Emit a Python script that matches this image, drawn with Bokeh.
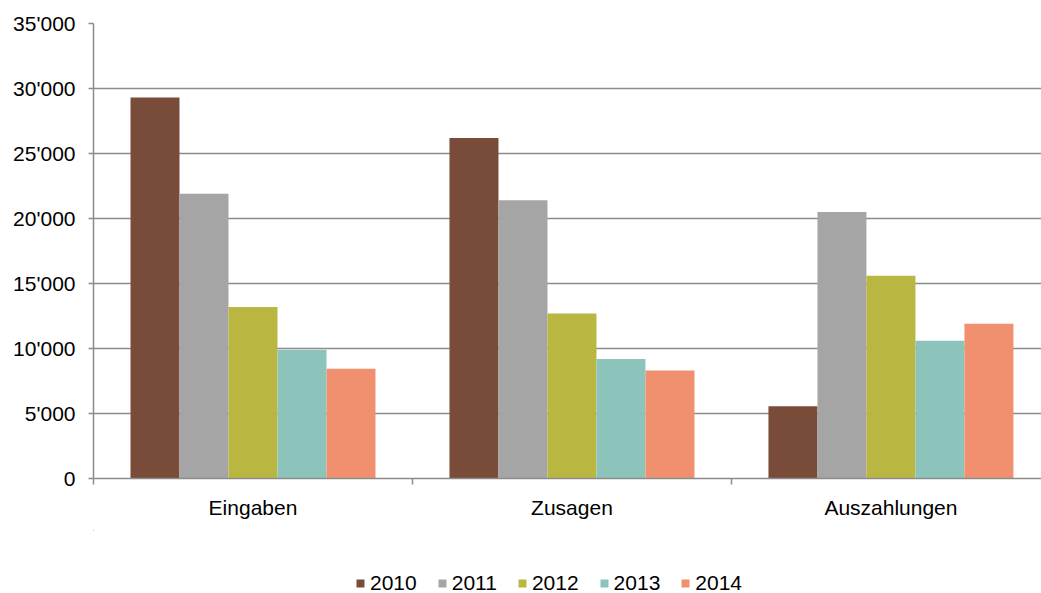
from bokeh.plotting import figure
from bokeh.layouts import column
from bokeh.models import ColumnDataSource, FixedTicker, Legend, LegendItem, Range1d
from bokeh.transform import dodge
from bokeh.embed import file_html
from bokeh.resources import INLINE

categories = ["Eingaben", "Zusagen", "Auszahlungen"]
years = ["2010", "2011", "2012", "2013", "2014"]
v2010 = [29300, 26200, 5550]
v2011 = [21900, 21400, 20500]
v2012 = [13200, 12700, 15600]
v2013 = [9900, 9200, 10600]
v2014 = [8450, 8300, 11900]
colors = ["#794C3A", "#A5A5A5", "#B9B642", "#8CC3BA", "#F0906E"]
y_ticks = [0, 5000, 10000, 15000, 20000, 25000, 30000, 35000]
y_labels = ["0", "5'000", "10'000", "15'000", "20'000", "25'000", "30'000", "35'000"]

FONT = "Liberation Sans"
GRID = "#8c8c8c"
FS = "21px"

xc = [i + 0.5 for i in range(len(categories))]
src = ColumnDataSource(dict(x=xc, v2010=v2010, v2011=v2011, v2012=v2012, v2013=v2013, v2014=v2014))

p = figure(width=1041, height=530, output_backend="svg", toolbar_location=None,
           x_range=Range1d(0, 2.972), y_range=Range1d(0, 35000),
           min_border_left=93, min_border_top=23, min_border_right=0,
           min_border_bottom=52)
p.outline_line_color = None

bw = 0.1536
for i, (yr, col) in enumerate(zip(years, colors)):
    p.vbar(x=dodge("x", (i - 2) * bw, range=p.x_range), top="v" + yr, width=bw,
           source=src, fill_color=col, line_color=None)

p.xgrid.grid_line_color = None
p.ygrid.grid_line_color = GRID
p.ygrid.grid_line_width = 1.5
p.ygrid.ticker = FixedTicker(ticks=y_ticks)

p.yaxis.ticker = FixedTicker(ticks=y_ticks)
p.yaxis.major_label_overrides = {t: l for t, l in zip(y_ticks, y_labels)}
p.yaxis.axis_line_color = GRID
p.yaxis.axis_line_width = 1.5
p.yaxis.major_tick_line_color = GRID
p.yaxis.major_tick_line_width = 1.5
p.yaxis.major_tick_in = 0
p.yaxis.major_tick_out = 5
p.yaxis.minor_tick_line_color = None
p.yaxis.major_label_standoff = 13
p.yaxis.major_label_text_font = FONT
p.yaxis.major_label_text_font_size = FS
p.yaxis.major_label_text_color = "#000000"

p.xaxis.ticker = FixedTicker(ticks=xc, minor_ticks=list(range(len(categories) + 1)))
p.xaxis.major_label_overrides = {x: c for x, c in zip(xc, categories)}
p.xaxis.axis_line_color = GRID
p.xaxis.axis_line_width = 1.5
p.xaxis.major_tick_line_color = None
p.xaxis.major_tick_in = 0
p.xaxis.major_tick_out = 0
p.xaxis.minor_tick_line_color = GRID
p.xaxis.minor_tick_line_width = 1.5
p.xaxis.minor_tick_in = 0
p.xaxis.minor_tick_out = 6
p.xaxis.major_label_standoff = 11
p.xaxis.major_label_text_font = FONT
p.xaxis.major_label_text_font_size = FS
p.xaxis.major_label_text_color = "#000000"

# legend strip (its bars lie far outside its visible ranges; only the legend shows)
lg = figure(width=1041, height=63, output_backend="svg", toolbar_location=None,
            x_range=Range1d(1000, 1001), y_range=Range1d(-1e7, -1e7 + 1),
            min_border_left=0, min_border_right=0, min_border_top=0, min_border_bottom=0)
lg.outline_line_color = None
lg.axis.visible = False
lg.grid.visible = False
lrs = [lg.vbar(x="x", top="v" + yr, width=bw, source=src, fill_color=col, line_color=None)
       for yr, col in zip(years, colors)]

legend = Legend(items=[LegendItem(label=yr, renderers=[r]) for yr, r in zip(years, lrs)],
                orientation="horizontal", location=(262, -2))
legend.label_text_font = FONT
legend.label_text_font_size = FS
legend.label_text_color = "#000000"
legend.glyph_width = 10
legend.glyph_height = 10
legend.label_standoff = 5
legend.spacing = 20
legend.padding = 0
legend.margin = 0
legend.border_line_color = None
legend.background_fill_alpha = 0
legend.label_height = 20
lg.add_layout(legend, "center")

layout = column(p, lg, spacing=0)
open("out.html", "w").write(file_html(layout, INLINE))
